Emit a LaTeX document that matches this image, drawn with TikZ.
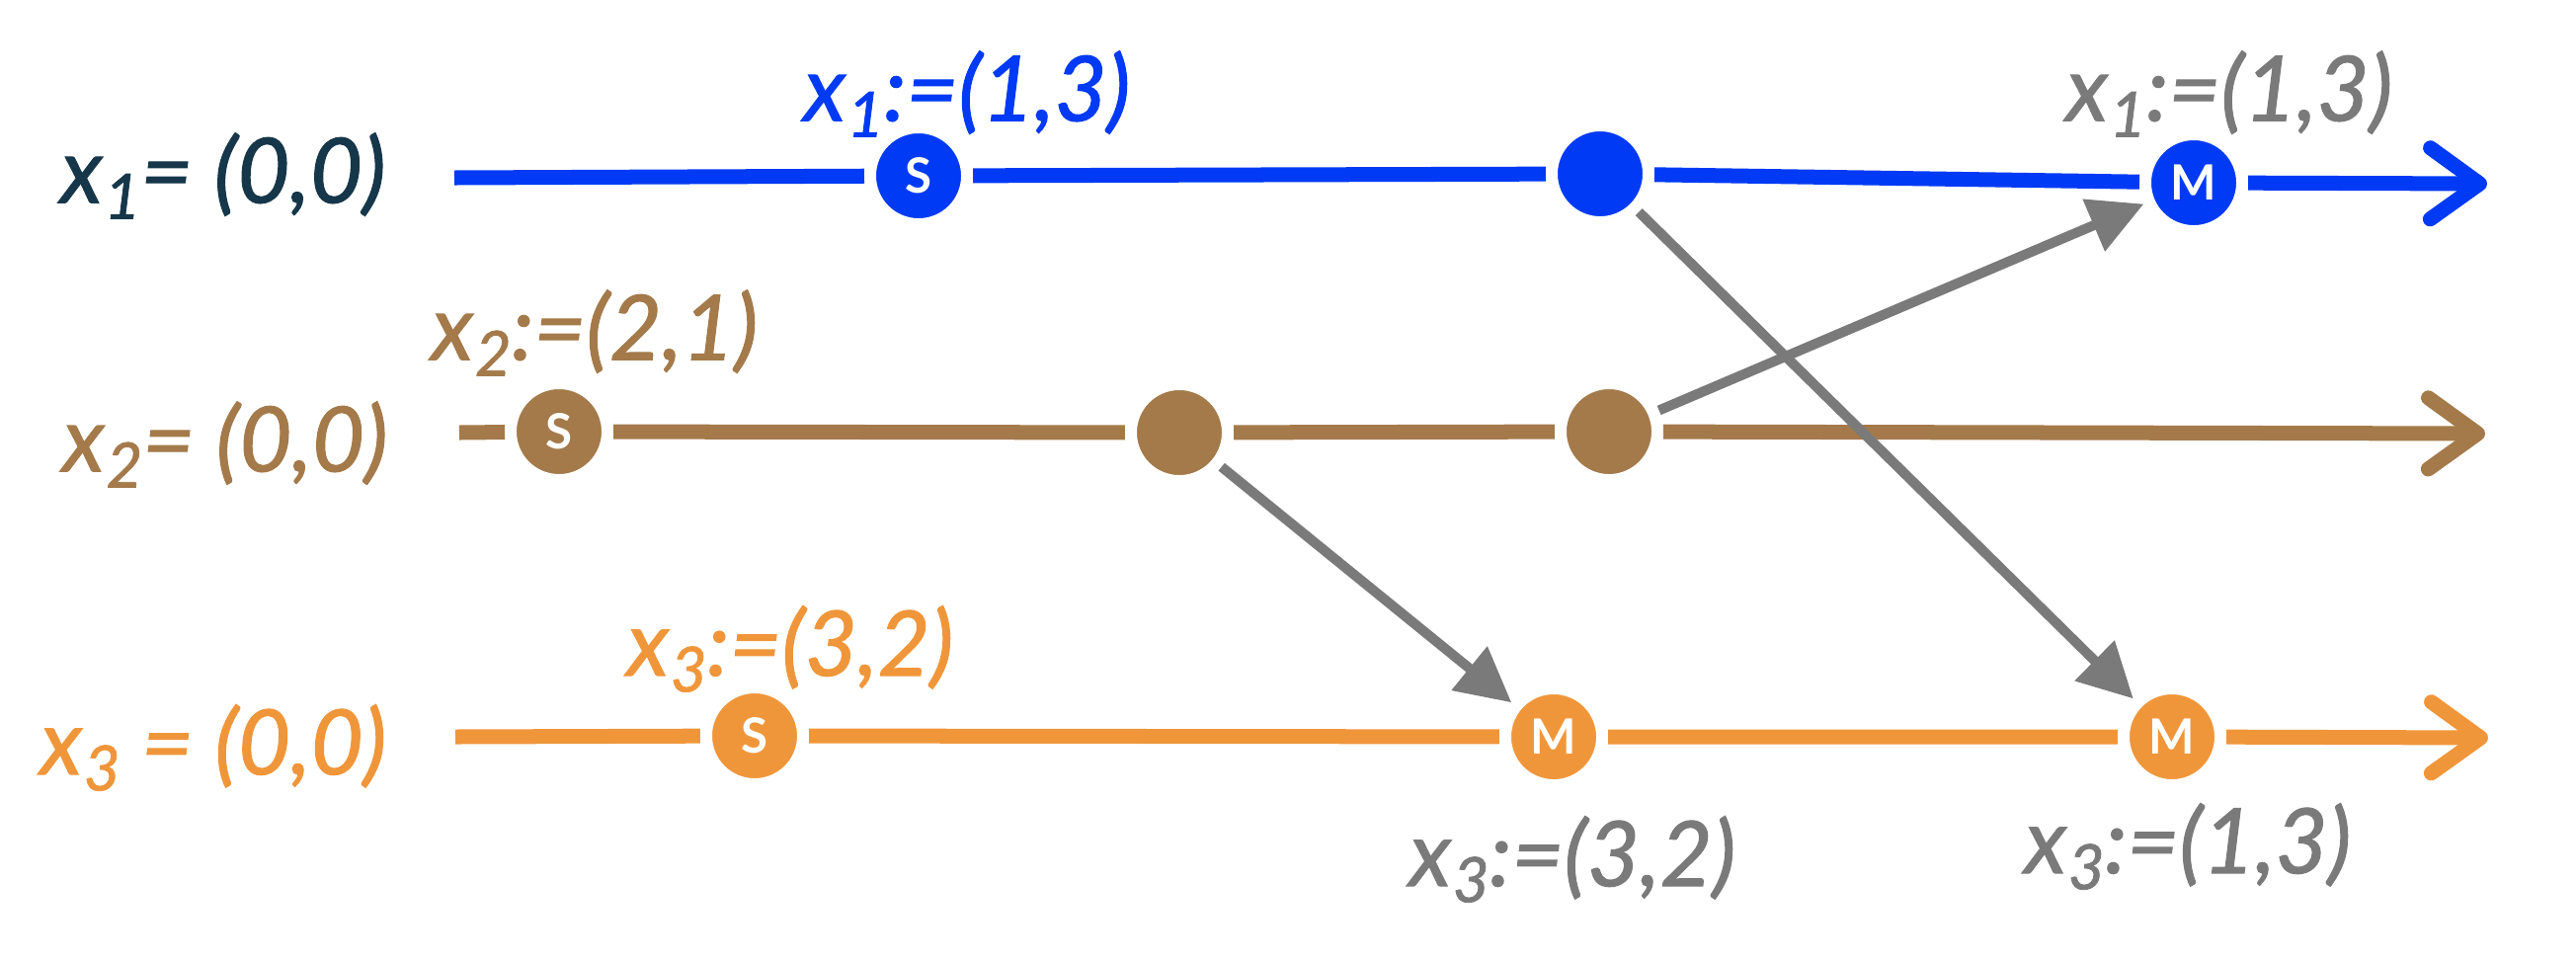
\documentclass[tikz,border=0pt]{standalone}
\usepackage{fontspec}
\setmainfont{Lato}[ItalicFeatures={FakeBold=1.2}]
\usepackage{tikz}
\usetikzlibrary{arrows.meta,positioning}
\definecolor{lineblue}{HTML}{003AF4}
\definecolor{linebrown}{HTML}{A47A4A}
\definecolor{lineorange}{HTML}{F0963A}
\definecolor{msggray}{HTML}{7A7A7A}
\definecolor{labelnavy}{HTML}{16374A}
\newcommand{\xv}[1]{x\kern0.5pt\raisebox{-0.35ex}{\fontsize{18}{18}\selectfont #1}}
\tikzset{
  dot/.style={circle, fill=#1, draw=white, line width=0.12cm, minimum size=0.98cm, inner sep=0pt, text=white, font=\fontsize{14}{15}\selectfont\bfseries},
  timeline/.style={line width=0.15cm, draw=#1, -{Straight Barb[length=0.5cm,width=0.72cm,round]}},
  msgarrow/.style={-{Triangle[length=0.55cm,width=0.55cm]}, line width=0.1cm, draw=msggray},
  lbl/.style={text=#1, inner sep=0pt, font=\fontsize{26}{30}\selectfont\itshape}
}

\begin{document}
\begin{tikzpicture}[x=0.01cm, y=-0.01cm]
  \useasboundingbox (0,0) rectangle (2608,972);

  \coordinate (a1) at (460,180);
  \coordinate (a2) at (465,438);
  \coordinate (a3) at (461,746);
  \coordinate (e1) at (2518,186);
  \coordinate (e2) at (2516,439);
  \coordinate (e3) at (2519,747);

  \node[dot=lineblue] (s1) at (930,178) {S};
  \node[dot=lineblue] (d1) at (1620,176) {};
  \node[dot=lineblue] (m1) at (2221,185) {M};
  \node[dot=linebrown] (s2) at (566,437) {S};
  \node[dot=linebrown] (d2a) at (1194,438) {};
  \node[dot=linebrown] (d2b) at (1629,437) {};
  \node[dot=lineorange] (s3) at (764,745) {S};
  \node[dot=lineorange] (m3a) at (1573,746) {M};
  \node[dot=lineorange] (m3b) at (2199,746) {M};

  \draw[timeline=lineblue] (a1) -- (s1) -- (d1) -- (m1) -- (e1);
  \draw[timeline=linebrown] (a2) -- (s2) -- (d2a) -- (d2b) -- (e2);
  \draw[timeline=lineorange] (a3) -- (s3) -- (m3a) -- (m3b) -- (e3);

  \draw[msgarrow] (d2b) -- (m1);
  \draw[msgarrow] (d2a) -- (m3a);
  \draw[msgarrow] (d1) -- (m3b);

  \node[lbl=labelnavy] (l1) at (226,178) {\xv{1}= (0,0)};
  \node[lbl=linebrown] (l2) at (228,450) {\xv{2}= (0,0)};
  \node[lbl=lineorange] (l3) at (216,757) {\xv{3} = (0,0)};
  \node[lbl=lineblue] (t1) at (979,95) {\xv{1}:=(1,3)};
  \node[lbl=linebrown] (t2) at (602,337) {\xv{2}:=(2,1)};
  \node[lbl=lineorange] (t3) at (800,657) {\xv{3}:=(3,2)};
  \node[lbl=msggray] (r1) at (2257,95) {\xv{1}:=(1,3)};
  \node[lbl=msggray] (r3a) at (1592,870) {\xv{3}:=(3,2)};
  \node[lbl=msggray] (r3b) at (2215,857) {\xv{3}:=(1,3)};
\end{tikzpicture}
\end{document}
